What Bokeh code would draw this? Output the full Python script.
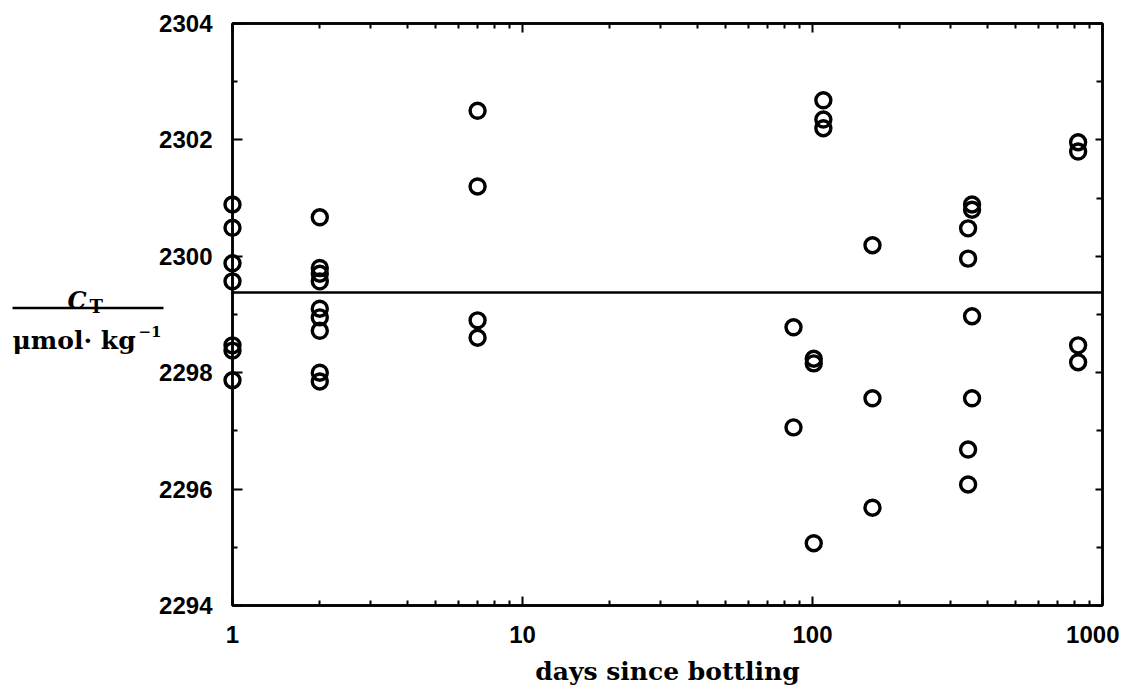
from bokeh.plotting import figure
from bokeh.models import (LogAxis, LinearAxis, FixedTicker, Span,
                          NumeralTickFormatter, Range1d)
from bokeh.core.properties import value
from bokeh.embed import file_html
from bokeh.resources import INLINE

# ---- data ----
sample_days = [1, 2, 7, 86, 101, 109, 161, 344, 355, 824]
ct_day1 = [2300.89, 2300.49, 2299.88, 2299.57, 2298.47, 2298.38, 2297.87]
ct_day2 = [2300.67, 2299.80, 2299.70, 2299.57, 2299.10, 2298.95, 2298.72, 2298.00, 2297.85]
ct_day7 = [2302.50, 2301.20, 2298.90, 2298.60]
ct_day86 = [2298.78, 2297.06]
ct_day101 = [2298.24, 2298.16, 2295.07]
ct_day109 = [2302.68, 2302.35, 2302.20]
ct_day161 = [2300.19, 2297.56, 2295.68]
ct_day344 = [2300.48, 2299.96, 2296.68, 2296.08]
ct_day355 = [2300.89, 2300.80, 2298.97, 2297.56]
ct_day824 = [2301.96, 2301.80, 2298.47, 2298.18]
mean_ct = 2299.38

x_ticks = [1, 10, 100, 1000]
x_minor = [2, 3, 4, 5, 6, 7, 8, 9, 20, 30, 40, 50, 60, 70, 80, 90,
           200, 300, 400, 500, 600, 700, 800, 900]
y_ticks = [2294, 2296, 2298, 2300, 2302, 2304]
y_minor = [2295, 2297, 2299, 2301, 2303]

groups = [ct_day1, ct_day2, ct_day7, ct_day86, ct_day101, ct_day109,
          ct_day161, ct_day344, ct_day355, ct_day824]
xs, ys = [], []
for d, vals in zip(sample_days, groups):
    for v in vals:
        xs.append(d)
        ys.append(v)

TICK_FONT = "Liberation Sans"
SERIF = "DejaVu Serif"

X0, X1 = 1, 1000
Y0, Y1 = 2294, 2304
FL, FT, FW, FH = 232, 23, 870, 582   # frame placement in page pixels

p = figure(x_axis_type="log", x_range=Range1d(X0, X1), y_range=Range1d(Y0, Y1),
           frame_width=FW, frame_height=FH,
           min_border_left=FL, min_border_top=FT, min_border_right=17, min_border_bottom=40,
           output_backend="svg", toolbar_location=None,
           background_fill_color="white", border_fill_color="white")
p.xgrid.visible = False
p.ygrid.visible = False
p.outline_line_color = "black"
p.outline_line_width = 2.5


def style_axis(ax, major_in, minor_in, labels=True, standoff=20):
    ax.axis_line_color = "black"
    ax.axis_line_width = 2.5
    ax.major_tick_in = major_in
    ax.major_tick_out = 0
    ax.minor_tick_in = minor_in
    ax.minor_tick_out = 0
    ax.major_tick_line_width = 2
    ax.minor_tick_line_width = 2
    ax.major_tick_line_color = "black"
    ax.minor_tick_line_color = "black"
    ax.major_label_text_font = TICK_FONT
    ax.major_label_text_font_style = "bold"
    if labels:
        ax.major_label_text_color = "black"
        ax.major_label_text_font_size = "24px"
        ax.major_label_standoff = standoff
    else:
        ax.major_label_text_color = None
        ax.major_label_text_font_size = "1px"
        ax.major_label_standoff = 0


xt = FixedTicker(ticks=x_ticks, minor_ticks=x_minor)
yt = FixedTicker(ticks=y_ticks, minor_ticks=y_minor)

p.xaxis.ticker = xt
p.xaxis.formatter = NumeralTickFormatter(format="0")
p.yaxis.ticker = yt
p.yaxis.formatter = NumeralTickFormatter(format="0")
for ax in p.xaxis:
    style_axis(ax, 9, 5, standoff=20)
    ax.axis_label = "days since bottling"
    ax.axis_label_text_font = SERIF
    ax.axis_label_text_font_style = "bold"
    ax.axis_label_text_font_size = "25px"
    ax.axis_label_text_color = "black"
    ax.axis_label_standoff = 11
for ax in p.yaxis:
    style_axis(ax, 10, 5, standoff=20)

top = LogAxis(ticker=xt, formatter=NumeralTickFormatter(format="0"))
style_axis(top, 9, 5, labels=False)
p.add_layout(top, "above")
right = LinearAxis(ticker=yt, formatter=NumeralTickFormatter(format="0"))
style_axis(right, 7, 6, labels=False)
p.add_layout(right, "right")

# mean line
p.add_layout(Span(location=mean_ct, dimension="width", line_color="black", line_width=2.5))

# data points
r = p.scatter(xs, ys, marker="circle", size=15, fill_color=None,
              line_color="black", line_width=3.4)
r.level = "overlay"


# y-axis label drawn as a fraction C_T / (umol. kg^-1), placed left of the frame
def fx(px):
    return 10 ** ((px - FL) / FW * 3)


def fy(py):
    return Y1 - (py - FT) / FH * (Y1 - Y0)


seg = p.segment(x0=[fx(12)], y0=[fy(307.5)], x1=[fx(163)], y1=[fy(307.5)],
                line_color="black", line_width=2.5)
seg.level = "overlay"

txt_kw = dict(text_font=value(SERIF), text_color="black", text_baseline="alphabetic",
              text_align="left")
parts = [
    (fx(67), fy(300), "C", "bold italic", "24px"),
    (fx(89), fy(306), "T", "bold", "18px"),
    (fx(12), fy(340), "\u03bcmol\u00b7 kg", "bold", "25px"),
    (fx(138), fy(331), "\u22121", "bold", "15px"),
]
for tx, ty, s, style, size in parts:
    g = p.text(x=[tx], y=[ty], text=[s], text_font_style=style,
               text_font_size=size, **txt_kw)
    g.level = "overlay"

open("out.html", "w").write(file_html(p, INLINE))
